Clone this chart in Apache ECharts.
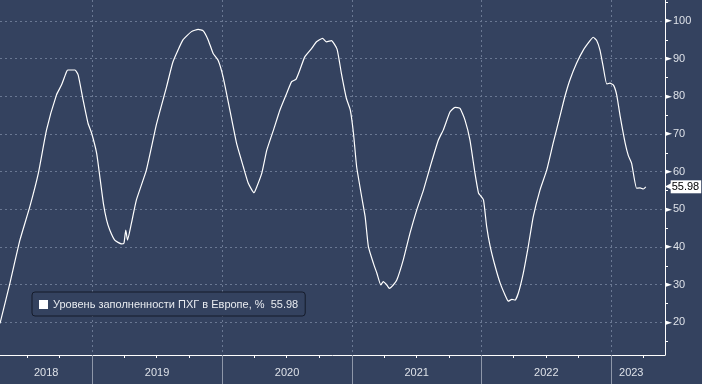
<!DOCTYPE html>
<html>
<head>
<meta charset="utf-8">
<script src="https://cdn.jsdelivr.net/npm/echarts@6/dist/echarts.min.js"></script>
<style>
html,body{margin:0;padding:0;background:#34425f;}
#chart{width:702px;height:384px;}
</style>
</head>
<body>
<div id="chart"></div>
<script>
var seriesName = 'Уровень заполненности ПХГ в Европе, %';
var lastValue = '55.98';
var dates = ['2018-04-16','2018-05-14','2018-06-11','2018-07-09','2018-08-02','2018-08-25','2018-09-22','2018-10-06','2018-10-20','2018-10-24','2018-11-13','2018-11-22','2018-12-06','2018-12-20','2018-12-30',
'2019-01-13','2019-01-22','2019-02-01','2019-02-10','2019-02-19','2019-03-05','2019-03-24','2019-03-31','2019-04-05','2019-04-10','2019-04-21','2019-05-05','2019-06-02','2019-07-01','2019-07-29','2019-08-16','2019-09-13','2019-10-07','2019-10-26','2019-11-09','2019-11-23','2019-12-07','2019-12-21',
'2020-01-04','2020-01-23','2020-02-11','2020-03-01','2020-03-15','2020-03-31','2020-04-08','2020-04-22','2020-05-06','2020-05-25','2020-06-12','2020-07-01','2020-07-15','2020-07-27','2020-08-07','2020-08-21','2020-09-09','2020-09-23','2020-10-10','2020-10-21','2020-11-04','2020-11-20','2020-12-02','2020-12-16','2020-12-27',
'2021-01-05','2021-01-14','2021-01-28','2021-02-07','2021-02-16','2021-03-02','2021-03-12','2021-03-23','2021-03-30','2021-04-09','2021-04-16','2021-04-27','2021-05-07','2021-05-25','2021-06-13','2021-07-02','2021-07-21','2021-08-09','2021-09-01','2021-09-15','2021-10-04','2021-10-18','2021-11-01','2021-11-15','2021-11-29','2021-12-13','2021-12-23','2021-12-27',
'2022-01-06','2022-01-15','2022-01-25','2022-02-08','2022-02-22','2022-03-08','2022-03-17','2022-03-27','2022-04-05','2022-04-14','2022-04-28','2022-05-12','2022-05-26','2022-06-14','2022-07-03','2022-07-21','2022-08-09','2022-08-23','2022-09-06','2022-09-25','2022-10-14','2022-11-02','2022-11-11','2022-11-21','2022-11-30','2022-12-09','2022-12-19','2022-12-28',
'2023-01-07','2023-01-16','2023-01-26','2023-02-09','2023-02-18','2023-02-27','2023-03-13','2023-03-23','2023-04-01','2023-04-08'];
var values = [19.7,30.4,41.8,50.7,59.6,71.1,80.4,83,86.5,87,87,85.7,79,72.8,70.2,
64.9,58.7,51.6,47.2,44.5,41.8,40.8,41,44.5,41.8,46.3,52.5,60.4,72.8,82.6,89.2,95,97.2,97.8,97.4,95,91.4,89.6,
85.2,76.4,67.5,61.3,56.9,54.4,56,59.6,65.7,71.1,76.4,80.8,83.9,84.5,87,90.5,92.7,94.5,95.4,94.5,94.8,92.5,86.1,79.5,76.4,
70.2,61.3,53.4,48,40.1,35.7,33,29.9,30.8,29.9,29,29.9,31.2,36.5,43.6,49.8,55.1,61.3,68.4,71.1,75.9,77.1,76.8,73.7,68.4,59.6,54.3,53.8,
52.5,45.4,40.1,34.8,30.4,27.2,25.6,26.1,25.9,27.7,33,40.1,48,55.1,60.4,67.5,74.6,79.9,84.3,88.8,92.3,94.8,95.7,94.8,92.3,87.9,83.3,83.5,
83,80.4,74.6,67.5,64.2,62.2,55.6,55.7,55.4,55.98];
var yearStarts = ['2019-01-01','2020-01-01','2021-01-01','2022-01-01','2023-01-01'];
var quarterTicks = ['2018-07-01','2018-10-01','2019-04-01','2019-07-01','2019-10-01','2020-04-01','2020-07-01','2020-10-01','2021-04-01','2021-07-01','2021-10-01','2022-04-01','2022-07-01','2022-10-01','2023-04-01'];
var yearLabelDates = ['2018-08-24','2019-07-02','2020-07-02','2021-07-02','2022-07-02','2023-02-26'];
var yMajorTicks = [20,30,40,50,60,70,80,90,100];
var yMinorTicks = [15,20,25,30,35,40,45,50,55,60,65,70,75,80,85,90,95,100,105];
var xMin = '2018-04-16', xMax = '2023-06-01';
var yMin = 11.3, yMax = 105.6;

function ts(s){ return new Date(s + 'T00:00:00Z').getTime(); }

var chart = echarts.init(document.getElementById('chart'), null, {renderer:'canvas'});
var labelColor = '#dde1e8';
var font = 'Liberation Sans, Arial, sans-serif';
var gridColor = '#6a7893';

chart.setOption({
  animation: false,
  backgroundColor: '#34425f',
  grid: {left: 0, right: 37, top: 0, bottom: 29, containLabel: false},
  legend: {
    show: true, left: 32, top: 292,
    icon: 'rect', itemWidth: 9, itemHeight: 9,
    padding: [7, 7, 6, 7],
    backgroundColor: '#34425f', borderColor: '#141b2b', borderWidth: 1, borderRadius: 3,
    textStyle: {color: '#e8ebf0', fontSize: 11, fontFamily: font},
    formatter: function(n){ return n + '  ' + lastValue; },
    data: [seriesName]
  },
  xAxis: [{
    type: 'value', min: ts(xMin), max: ts(xMax), position: 'bottom',
    axisLine: {show: true, onZero: false, lineStyle: {color: '#ffffff', width: 1}},
    axisTick: {show: true, customValues: quarterTicks.map(ts), length: 3, lineStyle: {color: '#ffffff'}},
    axisLabel: {show: true, customValues: yearLabelDates.map(ts), margin: 12, color: labelColor, fontSize: 11, fontFamily: font,
      formatter: function(v){ return String(new Date(v).getUTCFullYear()); }},
    splitLine: {show: false}
  }, {
    type: 'value', min: ts(xMin), max: ts(xMax), position: 'bottom',
    axisLine: {show: false, onZero: false},
    axisTick: {show: true, customValues: yearStarts.map(ts), length: 29, lineStyle: {color: '#8e97a9'}},
    axisLabel: {show: false},
    splitLine: {show: true, lineStyle: {color: gridColor, type: [2, 3], width: 1}}
  }],
  yAxis: [{
    type: 'value', position: 'right', min: yMin, max: yMax,
    axisLine: {show: true, onZero: false, lineStyle: {color: '#ffffff', width: 1}},
    axisTick: {show: true, customValues: yMinorTicks, length: 3, inside: false, lineStyle: {color: '#ffffff'}},
    axisLabel: {show: true, customValues: yMajorTicks, margin: 0,
      formatter: function(v){ return '{t|►}{v|' + v + '}'; },
      rich: {
        t: {fontFamily: 'DejaVu Sans', fontSize: 9, color: '#ffffff', padding: [0, 1, 0, 0]},
        v: {fontFamily: font, fontSize: 11, color: labelColor}
      }},
    splitLine: {show: false}
  }, {
    type: 'value', position: 'right', min: yMin, max: yMax,
    axisLine: {show: false, onZero: false},
    axisTick: {show: false, customValues: yMajorTicks},
    axisLabel: {show: false},
    splitLine: {show: true, lineStyle: {color: gridColor, type: [2, 3], width: 1}}
  }],
  series: [{
    name: seriesName,
    type: 'line',
    xAxisIndex: 0, yAxisIndex: 0,
    data: dates.map(function(d, i){ return [ts(d), values[i]]; }),
    showSymbol: false, symbol: 'none',
    color: '#ffffff',
    lineStyle: {color: '#ffffff', width: 1.2},
    smooth: 0.15,
    markLine: {
      silent: true, symbol: 'none',
      lineStyle: {color: 'rgba(0,0,0,0)', width: 0},
      data: [{yAxis: 55.98}],
      label: {
        show: true, position: 'end', distance: 0,
        formatter: function(){ return '{a|◀}{b|' + lastValue + '}'; },
        rich: {
          a: {fontFamily: 'DejaVu Sans', fontSize: 10, color: '#ffffff', padding: [0, -2, 0, 0]},
          b: {fontFamily: font, fontSize: 11, color: '#000000', backgroundColor: '#ffffff', padding: [1, 2, 1, 1]}
        }
      }
    }
  }]
});
</script>
</body>
</html>
